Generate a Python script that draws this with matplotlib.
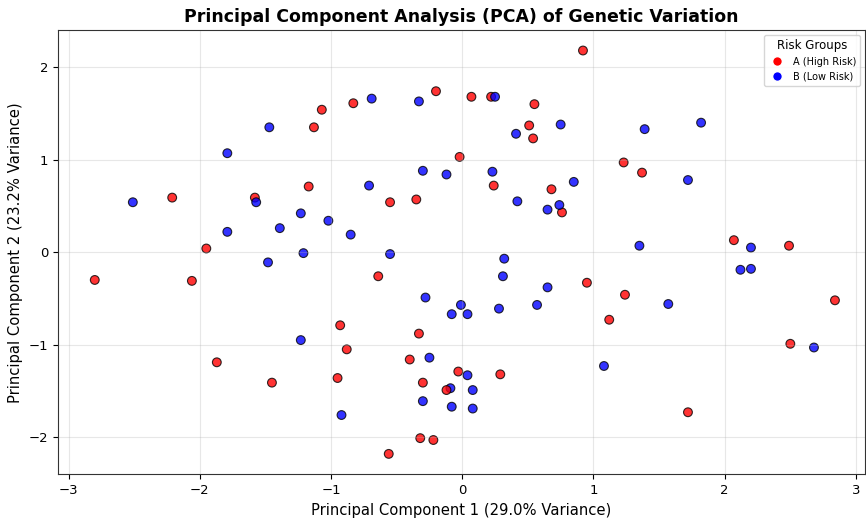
import matplotlib.pyplot as plt
from matplotlib.lines import Line2D

# PCA scores, one entry per sample
pc1 = [-1.07, -1.13, -2.21, -1.58, -1.17, -1.95, 0.92, -0.83, -0.20, 0.07,
       0.22, 0.55, 0.51, 0.54, -0.02, 0.24, -0.55, -0.35, 0.68, 0.76,
       1.23, 1.37, 2.07, 2.49, -2.80, -2.06, -1.87, -1.45, -0.64, 0.95,
       -0.93, -0.33, -0.88, -0.40, -0.03, 0.29, -0.95, -0.30, -0.32, -0.22,
       -0.56, 1.24, 1.12, 2.84, 2.50, 1.72,
       -1.47, -1.79, -2.51, -1.57, -1.23, -1.02, -1.39, -1.79, -1.21, -0.69,
       -0.33, 0.25, 0.41, 0.75, -0.30, -0.12, 0.23, -0.71, 0.42, 0.85,
       0.65, 0.74, -0.85, -0.55, 1.39, 1.82, 1.72, 1.35, 2.20, -1.48,
       -1.23, 0.32, 0.31, 0.65, -0.28, -0.01, 0.57, 0.28, -0.08, 0.04,
       -0.25, 0.04, -0.09, 0.08, -0.30, -0.08, 0.08, -0.92, 2.12, 2.20,
       1.57, 2.68, 1.08,
       -0.12]
pc2 = [1.54, 1.35, 0.59, 0.59, 0.71, 0.04, 2.18, 1.61, 1.74, 1.68,
       1.68, 1.60, 1.37, 1.23, 1.03, 0.72, 0.54, 0.57, 0.68, 0.43,
       0.97, 0.86, 0.13, 0.07, -0.30, -0.31, -1.19, -1.41, -0.26, -0.33,
       -0.79, -0.88, -1.05, -1.16, -1.29, -1.32, -1.36, -1.41, -2.01, -2.03,
       -2.18, -0.46, -0.73, -0.52, -0.99, -1.73,
       1.35, 1.07, 0.54, 0.54, 0.42, 0.34, 0.26, 0.22, -0.01, 1.66,
       1.63, 1.68, 1.28, 1.38, 0.88, 0.84, 0.87, 0.72, 0.55, 0.76,
       0.46, 0.51, 0.19, -0.02, 1.33, 1.40, 0.78, 0.07, 0.05, -0.11,
       -0.95, -0.07, -0.26, -0.38, -0.49, -0.57, -0.57, -0.61, -0.67, -0.67,
       -1.14, -1.33, -1.47, -1.49, -1.61, -1.67, -1.69, -1.76, -0.19, -0.18,
       -0.56, -1.03, -1.23,
       -1.49]
group = ['A'] * 46 + ['B'] * 53 + ['A']

group_colors = {'A': 'red', 'B': 'blue'}
group_names = {'A': 'A (High Risk)', 'B': 'B (Low Risk)'}

fig = plt.figure(figsize=(8.66, 5.2), dpi=100)
ax = fig.add_axes([0.067, 0.088, 0.932, 0.854])

ax.scatter(pc1, pc2, c=[group_colors[g] for g in group], s=40,
           alpha=0.8, edgecolors='black', linewidths=0.8)

ax.set_xlim(-3.08, 3.07)
ax.set_ylim(-2.4, 2.4)
ax.set_xticks([-3, -2, -1, 0, 1, 2, 3])
ax.set_yticks([-2, -1, 0, 1, 2])
ax.tick_params(labelsize=9.5)
ax.grid(True, alpha=0.3)
for sp in ax.spines.values():
    sp.set_color('#333333')

ax.set_title('Principal Component Analysis (PCA) of Genetic Variation',
             fontsize=12.5, fontweight='bold')
ax.set_xlabel('Principal Component 1 (29.0% Variance)', fontsize=10.6)
ax.set_ylabel('Principal Component 2 (23.2% Variance)', fontsize=10.6)

handles = [Line2D([0], [0], marker='o', color='w', markerfacecolor=group_colors[g],
                  markersize=7, label=group_names[g]) for g in ['A', 'B']]
ax.legend(handles=handles, title='Risk Groups', loc='upper right',
          fontsize=7, title_fontsize=8.5, handletextpad=0.6)

fig.savefig('out.png', dpi=100)
